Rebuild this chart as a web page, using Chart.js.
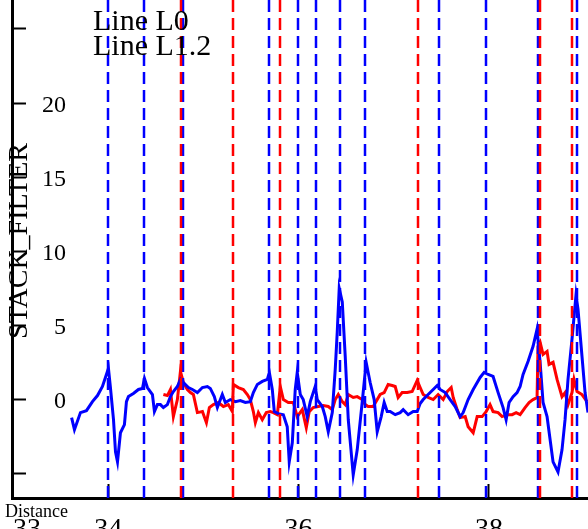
<!DOCTYPE html>
<html>
<head>
<meta charset="utf-8">
<script src="https://cdn.jsdelivr.net/npm/chart.js@4"></script>
<style>
  html, body { margin: 0; padding: 0; background: #fff; }
  #wrap { width: 588px; height: 529px; }
</style>
</head>
<body>
<div id="wrap"><canvas id="chart" width="588" height="529"></canvas></div>
<script>
// Line L0 (blue)
const l0X = [33.616,33.646,33.709,33.772,33.835,33.888,33.940,34.003,34.024,34.056,
  34.077,34.098,34.129,34.171,34.192,34.213,34.265,34.318,34.360,34.381,
  34.412,34.465,34.486,34.517,34.549,34.580,34.622,34.654,34.685,34.727,
  34.759,34.790,34.843,34.885,34.937,34.990,35.042,35.073,35.115,35.147,
  35.199,35.231,35.283,35.336,35.388,35.441,35.493,35.525,35.567,35.619,
  35.672,35.693,35.724,35.745,35.787,35.840,35.881,35.902,35.934,35.965,
  35.986,36.018,36.049,36.091,36.123,36.175,36.196,36.249,36.280,36.312,
  36.354,36.385,36.406,36.427,36.459,36.490,36.522,36.574,36.616,36.668,
  36.710,36.752,36.794,36.826,36.868,36.899,36.931,36.962,37.015,37.067,
  37.099,37.151,37.204,37.246,37.277,37.309,37.361,37.414,37.456,37.487,
  37.540,37.592,37.645,37.697,37.729,37.781,37.834,37.907,37.949,37.991,
  38.043,38.096,38.148,38.180,38.211,38.253,38.295,38.327,38.358,38.411,
  38.463,38.505,38.537,38.568,38.610,38.631,38.673,38.725,38.767,38.799,
  38.830,38.872,38.914,38.935,38.977,39.009,39.040];
const l0Y = [-1.22,-2.03,-0.88,-0.75,-0.14,0.27,0.88,2.10,0.81,-1.36,
  -3.53,-4.20,-2.24,-1.69,-0.14,0.20,0.41,0.68,0.75,1.42,
  0.81,0.34,-0.81,-0.34,-0.34,-0.54,-0.34,0.20,0.54,0.88,
  1.36,1.15,0.81,0.68,0.47,0.81,0.88,0.75,0.20,-0.54,
  0.34,-0.20,0.00,-0.14,-0.07,-0.20,-0.14,0.47,1.02,1.22,
  1.36,1.83,0.68,-0.81,-0.95,-1.02,-1.83,-4.20,-2.92,0.68,
  1.83,0.34,0.00,-1.15,-0.14,0.88,0.00,-0.47,-1.15,-2.17,
  -0.88,2.03,4.54,7.50,6.58,2.92,-1.36,-5.08,-3.39,-0.20,
  2.51,1.15,0.00,-2.17,-1.15,-0.20,-0.81,-0.81,-1.02,-0.88,
  -0.68,-1.02,-0.81,-0.81,-0.27,0.00,0.34,0.68,0.95,0.68,
  0.47,0.00,-0.47,-1.15,-0.88,0.00,0.68,1.49,1.83,1.69,
  1.56,0.47,-0.54,-1.36,-0.20,0.20,0.47,0.88,1.69,2.58,
  3.59,4.75,2.51,-0.20,-1.15,-2.17,-4.20,-4.88,-3.39,-1.36,
  1.36,4.07,7.05,6.10,2.92,0.47,-0.88];

// Line L1.2 (red)
const l12X = [34.580,34.622,34.654,34.685,34.727,34.759,34.790,34.832,34.864,34.895,
  34.937,34.990,35.032,35.063,35.105,35.157,35.210,35.262,35.304,35.315,
  35.367,35.420,35.462,35.493,35.525,35.546,35.578,35.619,35.661,35.703,
  35.735,35.777,35.808,35.840,35.892,35.945,35.986,36.039,36.081,36.112,
  36.154,36.207,36.259,36.312,36.354,36.385,36.417,36.459,36.490,36.522,
  36.574,36.616,36.668,36.700,36.731,36.784,36.857,36.899,36.941,36.983,
  37.015,37.046,37.088,37.141,37.193,37.246,37.277,37.309,37.361,37.414,
  37.466,37.519,37.561,37.603,37.624,37.666,37.697,37.750,37.781,37.834,
  37.876,37.928,37.970,38.011,38.043,38.096,38.138,38.190,38.243,38.285,
  38.327,38.379,38.421,38.463,38.505,38.515,38.537,38.568,38.610,38.631,
  38.673,38.715,38.767,38.799,38.830,38.872,38.893,38.925,38.977,39.030];
const l12Y = [0.34,0.27,0.68,-1.15,0.00,1.90,1.15,0.68,0.47,0.34,
  -0.88,-0.81,-1.56,-0.54,-0.34,-0.20,-0.47,-0.34,-0.81,1.02,
  0.81,0.68,0.34,0.00,-0.81,-1.56,-0.88,-1.36,-0.88,-0.81,
  -0.88,-1.02,0.88,0.00,-0.20,-0.20,-1.15,-0.68,-1.90,-0.81,
  -0.54,-0.47,-0.41,-0.47,-0.68,0.00,0.34,-0.14,-0.34,0.34,
  0.14,0.20,0.00,-0.34,-0.47,-0.47,0.34,0.47,1.02,0.95,
  0.88,0.14,0.47,0.47,0.54,1.29,0.81,0.34,0.14,0.00,
  0.34,0.00,0.54,0.81,0.14,-0.68,-1.22,-1.15,-1.83,-2.24,
  -1.15,-1.15,-0.81,-0.34,-0.81,-0.88,-1.15,-1.02,-1.02,-0.88,
  -1.02,-0.54,-0.20,0.00,0.14,3.59,3.86,3.05,3.25,2.37,
  2.51,1.36,0.20,0.47,-0.34,0.47,1.36,0.54,0.34,-0.14];

// vertical dashed markers
const l0Marks = [34.00, 34.38, 34.79, 35.69, 35.99, 36.18, 36.43, 36.70, 37.47, 37.97, 38.51, 38.92];
const l12Marks = [34.76, 35.31, 35.81, 37.25, 38.54, 38.87];

// axes
const xTicks = [33, 34, 36, 38, 39];   // 39 only anchors the 'inner' alignment, no label
const xLabelled = [33, 34, 36, 38];
const yLabelled = [0, 5, 10, 15, 20];
const xMin = 32.99, xMax = 39.04;
const yMin = -6.64, yMax = 26.95;

const serif = "'Liberation Serif', 'Times New Roman', serif";

const markerLines = {
  id: 'markerLines',
  afterDatasetsDraw(chart) {
    const {ctx, chartArea, scales: {x}} = chart;
    ctx.save();
    ctx.beginPath();
    ctx.rect(chartArea.left, chartArea.top, chartArea.width, chartArea.height);
    ctx.clip();
    ctx.lineWidth = 2.5;
    ctx.setLineDash([12, 6]);
    [[l0Marks, '#0000ff'], [l12Marks, '#ff0000']].forEach(([marks, color]) => {
      ctx.strokeStyle = color;
      marks.forEach(v => {
        const px = Math.round(x.getPixelForValue(v));
        ctx.beginPath();
        ctx.moveTo(px, chartArea.top);
        ctx.lineTo(px, chartArea.bottom);
        ctx.stroke();
      });
    });
    ctx.restore();
  }
};

const textLabels = {
  id: 'textLabels',
  afterDraw(chart) {
    const ctx = chart.ctx;
    ctx.save();
    ctx.fillStyle = '#000';
    ctx.textBaseline = 'alphabetic';

    // legend-like labels, no swatches
    ctx.textAlign = 'left';
    ctx.font = '30px ' + serif;
    chart.data.datasets.forEach((ds, i) => {
      ctx.fillText(ds.label, 93, 30 + i * 25);
    });

    // x title
    ctx.font = '18px ' + serif;
    ctx.fillText('Distance', 5, 517);

    // y title
    ctx.translate(27, 241);
    ctx.rotate(-Math.PI / 2);
    ctx.textAlign = 'center';
    ctx.font = '28px ' + serif;
    ctx.fillText('STACK_FILTER', 0, 0);
    ctx.restore();
  }
};

const ctx = document.getElementById('chart').getContext('2d');
new Chart(ctx, {
  type: 'line',
  data: {
    datasets: [
      {
        label: 'Line L0',
        data: l0X.map((v, i) => ({x: v, y: l0Y[i]})),
        borderColor: '#0000ff',
        borderWidth: 3,
        pointRadius: 0,
        tension: 0
      },
      {
        label: 'Line L1.2',
        data: l12X.map((v, i) => ({x: v, y: l12Y[i]})),
        borderColor: '#ff0000',
        borderWidth: 3,
        pointRadius: 0,
        tension: 0
      }
    ]
  },
  options: {
    responsive: false,
    animation: false,
    devicePixelRatio: 1,
    layout: { padding: 0, autoPadding: false },
    plugins: {
      legend: { display: false },
      tooltip: { enabled: false },
      title: { display: false }
    },
    scales: {
      x: {
        type: 'linear',
        min: xMin,
        max: xMax,
        afterBuildTicks: s => { s.ticks = xTicks.map(v => ({value: v})); },
        afterFit: s => { s.height = 31; s.paddingLeft = 0; s.paddingRight = 0; },
        ticks: {
          align: 'inner',
          padding: 29,
          maxRotation: 0,
          autoSkip: false,
          color: '#000',
          font: { family: serif, size: 28 },
          callback: v => xLabelled.includes(v) ? String(v) : ''
        },
        grid: {
          drawOnChartArea: false,
          tickLength: -14,
          tickWidth: 2,
          tickColor: c => (c.tick && xLabelled.includes(c.tick.value)) ? '#000' : 'rgba(0,0,0,0)'
        },
        border: { display: true, color: '#000', width: 3 }
      },
      y: {
        min: yMin,
        max: yMax,
        afterFit: s => { s.width = 12; s.paddingTop = 0; s.paddingBottom = 0; },
        ticks: {
          stepSize: 5,
          includeBounds: false,
          mirror: true,
          crossAlign: 'far',
          padding: 30,
          labelOffset: 2.5,
          color: '#000',
          font: { family: serif, size: 24 },
          callback: v => yLabelled.includes(v) ? String(v) : ''
        },
        grid: {
          drawOnChartArea: false,
          tickLength: -14,
          tickWidth: 2,
          tickColor: '#000'
        },
        border: { display: true, color: '#000', width: 3 }
      }
    }
  },
  plugins: [markerLines, textLabels]
});
</script>
</body>
</html>
